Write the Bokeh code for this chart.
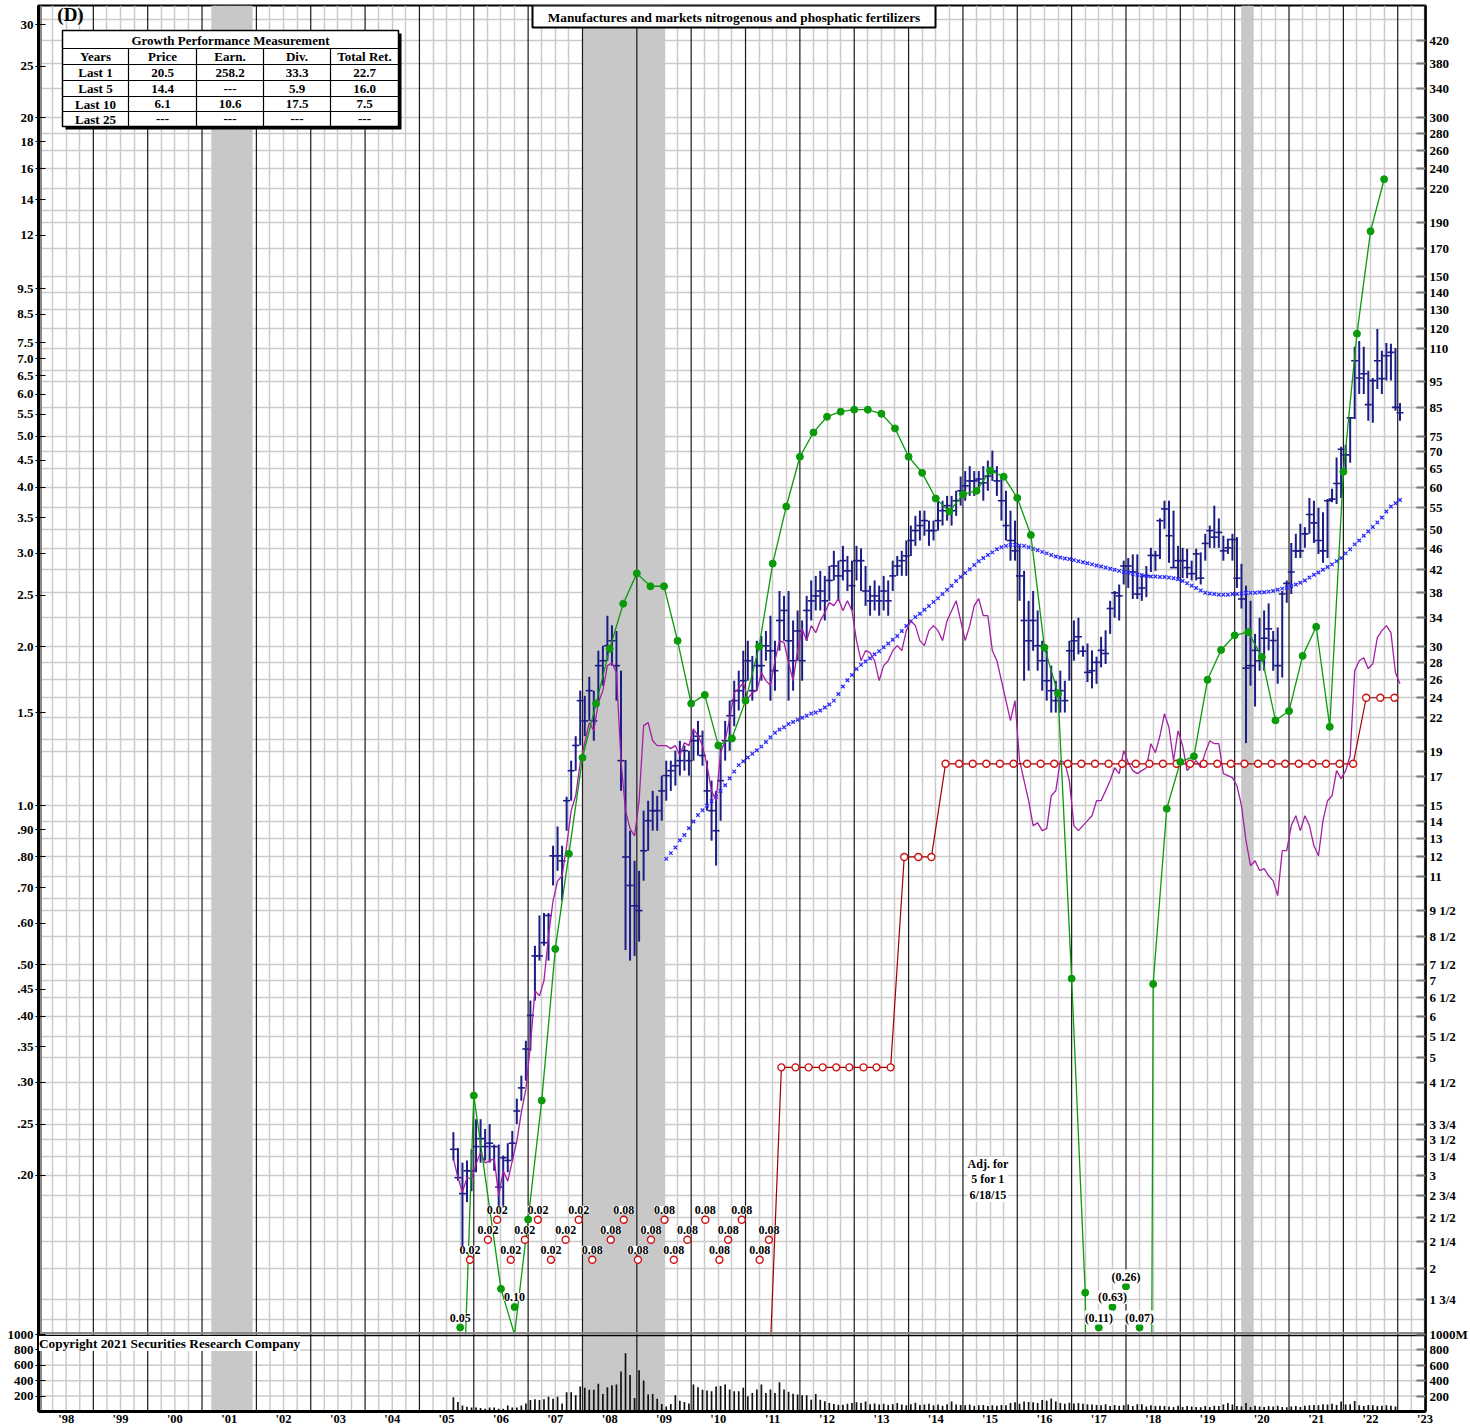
import math
import pandas as pd
from bokeh.plotting import figure
from bokeh.models import (Range1d, LogScale, LinearScale, LogAxis, FixedTicker,
                          ColumnDataSource, LabelSet, Label, Grid)
from bokeh.core.properties import value
from bokeh.embed import file_html
from bokeh.resources import INLINE

FONT = "Liberation Serif"

# ---------------- data ----------------
TITLE = "Manufactures and markets nitrogenous and phosphatic fertilizers"
TABLE_TITLE = "Growth Performance Measurement"
TABLE_HEAD = ["Years", "Price", "Earn.", "Div.", "Total Ret."]
TABLE_YEARS = ["Last 1", "Last 5", "Last 10", "Last 25"]
TABLE_PRICE = ["20.5", "14.4", "6.1", "---"]
TABLE_EARN = ["258.2", "---", "10.6", "---"]
TABLE_DIV = ["33.3", "5.9", "17.5", "---"]
TABLE_TOTAL = ["22.7", "16.0", "7.5", "---"]

REC_START = [2001.17, 2008.00, 2020.12]
REC_END = [2001.93, 2009.51, 2020.35]

FIRST_MONTH = "2005-08-01"
# monthly price bars (right scale, $)
PRICE_HIGH = [3.62,3.38,3.17,3.20,3.36,3.83,3.83,3.67,3.75,3.43,
              3.43,3.27,3.45,3.64,4.19,4.63,5.39,6.42,8.15,9.30,
              9.40,9.40,12.6,13.7,12.6,15.6,18.25,20.3,24.75,24.2,
              26.3,24.75,29.45,30.1,34.3,32.9,32.1,27.0,18.3,13.45,
              11.8,11.3,14.68,15.33,16.0,15.66,17.1,18.25,18.25,19.06,
              19.9,19.5,19.06,20.8,21.7,20.8,18.25,16.73,16.0,19.5,
              21.7,23.7,25.85,27.0,29.45,30.76,28.8,30.76,31.4,32.1,
              34.3,30.76,38.2,37.4,38.2,33.6,35.1,33.6,37.4,40.0,
              40.8,41.7,40.8,42.6,45.5,43.6,46.5,44.5,43.6,46.5,
              46.0,42.6,39.1,40.0,39.1,40.8,40.0,43.6,44.5,45.5,
              47.6,50.8,53.0,54.2,54.2,51.9,51.9,56.6,56.6,57.8,
              57.8,59.1,62.9,64.4,65.8,64.4,64.4,65.8,67.4,70.4,
              65.8,63.0,59.1,54.2,51.9,46.5,41.7,36.6,38.2,35.1,
              30.76,29.45,27.6,25.85,27.0,25.85,30.76,33.6,34.0,30.1,
              30.4,29.5,28.7,31.3,32.2,36.6,38.2,39.3,43.6,44.1,
              44.8,44.8,41.2,42.6,46.1,45.5,52.4,56.6,56.6,54.2,
              46.5,46.1,45.9,43.6,45.9,45.2,49.0,50.8,55.4,52.4,
              48.6,48.0,49.0,48.3,43.0,39.1,36.6,31.7,34.0,35.1,
              36.2,32.1,32.6,38.2,40.0,47.1,49.0,51.2,50.4,57.3,
              56.6,54.9,53.8,57.0,59.6,68.3,71.6,72.2,81.2,110.7,
              113.5,110.7,99.7,96.6,119.5,108.7,112.5,112.1,110.1,86.6]
PRICE_LOW = [3.20,2.93,2.18,2.67,2.80,3.04,3.17,3.20,3.17,3.06,
             2.62,2.62,3.04,3.20,3.75,4.15,4.53,5.16,6.42,7.64,
             8.15,7.64,10.6,11.3,9.92,13.45,15.33,17.47,19.5,20.3,
             21.7,19.9,23.7,25.3,28.2,27.6,23.7,16.0,8.0,7.64,
             7.8,8.3,10.82,12.33,13.45,13.45,14.05,15.33,16.0,16.37,
             17.1,17.47,17.1,18.25,18.66,17.85,14.68,12.88,11.56,14.05,
             18.25,19.06,21.2,22.7,23.7,25.85,23.7,24.75,25.85,28.2,
             23.7,24.75,29.45,30.76,23.7,24.75,28.2,25.85,30.76,33.6,
             35.1,35.1,33.6,36.6,40.0,36.6,40.0,38.2,35.1,40.0,
             38.2,35.8,34.3,35.1,34.3,35.1,34.3,38.2,40.8,40.8,
             40.8,44.5,46.5,47.6,48.6,46.5,47.6,49.7,50.8,51.9,
             50.8,53.0,55.4,56.6,57.8,57.8,59.1,56.6,59.1,61.7,
             57.8,51.9,47.6,43.6,43.6,36.6,25.85,27.0,29.45,27.0,
             24.75,23.7,22.5,22.5,22.5,22.5,25.85,28.2,29.0,28.7,
             25.7,25.0,25.5,27.4,27.8,31.7,34.0,33.6,39.3,38.7,
             36.9,36.9,36.6,37.2,41.5,41.7,43.9,50.1,43.2,42.3,
             40.4,40.4,40.4,40.0,40.0,39.3,43.6,46.1,46.1,46.1,
             43.6,44.9,43.6,38.7,35.4,19.7,25.3,23.1,27.0,27.0,
             29.5,27.0,25.5,26.2,36.3,37.7,44.1,44.1,46.1,49.0,
             47.1,44.9,43.2,44.1,56.2,55.8,57.3,63.9,66.8,80.8,
             90.1,90.1,80.2,79.5,92.1,90.1,95.5,95.5,83.7,80.2]
PRICE_CLOSE = [3.36,2.97,2.77,3.06,3.06,3.40,3.52,3.40,3.45,3.40,
               2.85,3.24,3.20,3.45,3.97,4.39,5.20,6.02,7.80,7.80,
               8.26,9.30,12.06,12.06,11.8,15.33,17.47,19.5,23.7,21.7,
               24.75,21.7,27.6,28.2,30.1,30.76,27.6,18.25,12.0,10.6,
               9.7,9.5,12.33,14.05,14.68,14.68,16.0,17.1,17.47,17.85,
               18.25,19.06,18.25,19.9,20.3,18.66,16.0,14.68,13.45,16.73,
               19.9,22.2,23.7,24.75,25.85,28.2,24.75,27.6,27.6,30.1,
               29.45,27.0,33.6,35.1,30.76,28.2,32.1,28.2,35.1,36.6,
               37.4,38.2,36.6,40.0,42.6,40.8,43.6,41.7,39.1,43.6,
               43.6,38.2,36.6,37.4,36.6,38.2,36.6,40.8,42.6,43.6,
               44.5,47.6,49.7,50.8,51.9,49.7,49.7,51.9,54.2,55.4,
               54.2,56.6,59.1,60.4,61.7,61.7,62.2,61.2,63.0,64.4,
               61.7,56.6,50.8,47.6,45.5,40.8,33.6,30.76,33.6,30.1,
               28.2,25.85,24.75,23.7,24.75,23.7,29.45,30.76,31.3,29.4,
               26.8,27.0,28.0,29.5,29.1,35.4,37.9,37.4,42.6,42.6,
               41.5,37.7,38.7,40.8,44.6,44.6,51.9,54.6,48.6,42.3,
               43.6,43.6,42.3,41.2,44.9,40.4,47.0,49.7,48.3,49.3,
               45.5,46.1,47.8,40.4,36.9,27.3,27.6,29.5,28.2,31.1,
               32.4,30.8,27.6,37.7,39.5,41.5,45.5,45.5,49.0,53.3,
               51.4,47.6,45.5,56.6,57.0,61.0,70.8,69.1,81.2,104.1,
               96.6,98.4,86.0,95.5,104.1,96.3,106.4,108.0,85.0,83.0]

# moving-average "x" line (right scale), monthly from the 48th bar
MA_FIRST_INDEX = 47
MA_VALUES = [11.9,12.2,12.5,12.9,13.2,13.6,14.0,14.4,14.7,15.0,
             15.3,15.6,16.0,16.4,16.9,17.4,17.9,18.2,18.5,18.8,
             19.1,19.4,19.8,20.2,20.6,20.9,21.1,21.4,21.6,21.8,
             22.0,22.2,22.4,22.5,22.7,23.0,23.3,23.7,24.4,25.2,
             25.9,26.5,27.2,27.7,28.1,28.5,29.0,29.4,29.9,30.4,
             30.9,31.4,32.1,32.8,33.5,34.1,34.6,35.2,35.8,36.4,
             37.0,37.7,38.4,39.1,39.9,40.6,41.3,42.0,42.8,43.5,
             44.1,44.7,45.2,45.8,46.2,46.5,46.7,46.7,46.6,46.5,
             46.2,45.9,45.6,45.3,45.0,44.7,44.4,44.2,44.0,43.9,
             43.7,43.5,43.3,43.1,42.9,42.7,42.5,42.3,42.1,41.9,
             41.7,41.5,41.4,41.2,41.0,40.9,40.8,40.7,40.7,40.6,
             40.6,40.5,40.4,40.2,39.9,39.5,39.1,38.7,38.3,37.9,
             37.8,37.7,37.6,37.6,37.6,37.7,37.7,37.8,37.9,37.9,
             37.9,38.0,38.0,38.1,38.2,38.4,38.6,38.8,39.0,39.3,
             39.6,40.0,40.5,41.0,41.4,41.9,42.4,42.9,43.5,44.1,
             45.0,45.8,46.8,47.6,48.6,49.5,50.5,51.5,52.6,54.0,
             55.2,56.0,56.8]

# relative strength (left scale units), monthly
REL_STRENGTH = [0.215,0.198,0.186,0.198,0.197,0.210,0.221,0.211,0.213,0.215,
                0.183,0.204,0.195,0.213,0.232,0.263,0.291,0.352,0.447,0.437,
                0.467,0.568,0.661,0.721,0.737,0.840,0.978,1.044,1.206,1.316,
                1.436,1.386,1.566,1.650,1.840,1.864,1.784,1.217,0.978,0.905,
                0.877,1.022,1.417,1.436,1.327,1.299,1.299,1.299,1.282,1.299,
                1.244,1.316,1.299,1.398,1.356,1.299,1.191,1.067,1.022,1.260,
                1.327,1.461,1.636,1.665,1.709,1.594,1.636,1.650,1.784,1.724,
                1.687,1.880,2.052,2.034,1.864,1.724,1.964,2.161,2.052,2.190,
                2.124,2.238,2.316,2.421,2.390,2.464,2.336,2.442,2.336,2.052,
                1.880,1.964,1.947,1.880,1.724,1.840,1.880,1.964,2.008,1.964,
                2.143,2.238,2.190,2.052,2.008,2.143,2.190,2.143,2.052,2.238,
                2.336,2.442,2.238,2.052,2.190,2.390,2.464,2.287,2.287,1.964,
                1.880,1.724,1.580,1.448,1.580,1.217,1.115,1.022,0.917,0.928,
                0.897,0.905,1.044,1.067,1.217,1.206,1.115,0.917,0.897,0.917,
                0.937,0.957,1.022,1.022,1.067,1.115,1.180,1.150,1.271,1.206,
                1.165,1.150,1.165,1.180,1.310,1.260,1.356,1.493,1.404,1.217,
                1.386,1.299,1.165,1.191,1.217,1.180,1.260,1.327,1.310,1.310,
                1.150,1.140,1.130,1.091,1.000,0.859,0.770,0.787,0.754,0.760,
                0.737,0.721,0.676,0.822,0.822,0.917,0.957,0.897,0.957,0.917,
                0.840,0.804,0.937,1.022,1.044,1.165,1.125,1.165,1.244,1.800,
                1.880,1.905,1.816,1.855,2.079,2.143,2.190,2.124,1.784,1.701]

# monthly volume (millions)
VOLUME = [184,123,79,61,53,53,44,35,53,53,35,35,79,53,53,79,105,149,158,149,
          158,193,167,193,105,250,250,211,325,307,281,281,360,228,316,342,351,518,755,474,
          176,535,404,220,228,167,97,66,97,211,140,123,105,351,316,281,272,263,325,330,
          350,285,263,263,307,197,240,285,351,240,285,240,380,285,255,232,220,211,211,154,
          228,154,132,110,97,88,88,100,110,120,110,130,95,105,90,100,85,95,110,90,
          80,95,115,85,90,100,80,90,75,95,130,90,85,80,90,75,80,85,70,80,
          75,85,80,110,120,100,130,125,120,110,150,140,170,130,110,100,115,105,110,100,
          95,90,85,80,95,70,85,75,80,90,70,95,95,65,80,70,75,70,65,60,
          75,60,70,65,60,55,70,60,75,70,90,110,90,70,65,110,60,75,65,60,
          70,65,75,60,55,65,70,60,75,80,85,80,95,90,100,85,130,90,95,135,
          80,70,85,80,70,75,80,75,65,15]

# 12-month earnings (left scale), quarterly
EARN_DATES = [2005.75, 2006.00, 2006.50, 2006.75, 2007.00, 2007.25, 2007.50, 2007.75,
              2008.00, 2008.25, 2008.50, 2008.75, 2009.00, 2009.25, 2009.50, 2009.75,
              2010.00, 2010.25, 2010.50, 2010.75, 2011.00, 2011.25, 2011.50, 2011.75,
              2012.00, 2012.25, 2012.50, 2012.75, 2013.00, 2013.25, 2013.50, 2013.75,
              2014.00, 2014.25, 2014.50, 2014.75, 2015.00, 2015.25, 2015.50, 2015.75,
              2016.00, 2016.25, 2016.50, 2016.75, 2017.00, 2017.25, 2017.50, 2017.75,
              2018.00, 2018.25, 2018.50, 2018.75, 2019.00, 2019.25, 2019.50, 2019.75,
              2020.00, 2020.25, 2020.50, 2020.75, 2021.00, 2021.25, 2021.50, 2021.75,
              2022.00, 2022.25, 2022.50, 2022.75]
EARN_VALUES = [0.05, 0.283, 0.122, 0.10, 0.165, 0.277, 0.536, 0.811,
               1.232, 1.56, 1.98, 2.41, 2.75, 2.60, 2.60, 2.05,
               1.56, 1.62, 1.30, 1.34, 1.58, 2.00, 2.87, 3.68,
               4.57, 5.08, 5.44, 5.56, 5.61, 5.61, 5.51, 5.17,
               4.57, 4.26, 3.81, 3.60, 3.88, 3.94, 4.30, 4.19,
               3.82, 3.25, 1.99, 1.63, 0.471, 0.120, -0.11, -0.63,
               -0.26, -0.07, 0.46, 0.987, 1.21, 1.24, 1.73, 1.97,
               2.10, 2.13, 1.91, 1.45, 1.51, 1.92, 2.18, 1.41,
               4.28, 7.81, 12.2, 15.3]

# annual dividend rate (left scale), quarterly
DIV_DATES = [2005.93, 2006.26, 2006.43, 2006.68, 2006.94, 2007.18, 2007.42, 2007.69,
             2007.93, 2008.18, 2008.52, 2008.76, 2009.02, 2009.26, 2009.51, 2009.68,
             2009.93, 2010.26, 2010.52, 2010.68, 2010.93, 2011.26, 2011.43, 2011.66,
             2011.92, 2012.16, 2012.42, 2012.67, 2012.91, 2013.17, 2013.41, 2013.67,
             2013.92, 2014.18, 2014.42, 2014.68, 2014.93, 2015.18, 2015.43, 2015.68,
             2015.93, 2016.18, 2016.43, 2016.68, 2016.93, 2017.18, 2017.43, 2017.68,
             2017.93, 2018.18, 2018.43, 2018.68, 2018.93, 2019.18, 2019.43, 2019.68,
             2019.93, 2020.18, 2020.43, 2020.68, 2020.93, 2021.18, 2021.43, 2021.68,
             2021.93, 2022.18, 2022.42, 2022.68, 2022.94]
DIV_VALUES = [0.02, 0.02, 0.02, 0.02, 0.02, 0.02, 0.02, 0.02,
              0.02, 0.08, 0.08, 0.08, 0.08, 0.08, 0.08, 0.08,
              0.08, 0.08, 0.08, 0.08, 0.08, 0.08, 0.08, 0.32,
              0.32, 0.32, 0.32, 0.32, 0.32, 0.32, 0.32, 0.32,
              0.80, 0.80, 0.80, 1.20, 1.20, 1.20, 1.20, 1.20,
              1.20, 1.20, 1.20, 1.20, 1.20, 1.20, 1.20, 1.20,
              1.20, 1.20, 1.20, 1.20, 1.20, 1.20, 1.20, 1.20,
              1.20, 1.20, 1.20, 1.20, 1.20, 1.20, 1.20, 1.20,
              1.20, 1.20, 1.60, 1.60, 1.60]

SPLIT_DATE = 2015.46
SPLIT_NOTE = "Adj. for\n5 for 1\n6/18/15"
COPYRIGHT = "Copyright 2021 Securities Research Company"

LEFT_TICKS = [30, 25, 20, 18, 16, 14, 12, 9.5, 8.5, 7.5, 7, 6.5, 6, 5.5, 5, 4.5, 4, 3.5, 3,
              2.5, 2, 1.5, 1, 0.9, 0.8, 0.7, 0.6, 0.5, 0.45, 0.4, 0.35, 0.3, 0.25, 0.2]
LEFT_LABELS = ["30", "25", "20", "18", "16", "14", "12", "9.5", "8.5", "7.5", "7.0", "6.5",
               "6.0", "5.5", "5.0", "4.5", "4.0", "3.5", "3.0", "2.5", "2.0", "1.5", "1.0",
               ".90", ".80", ".70", ".60", ".50", ".45", ".40", ".35", ".30", ".25", ".20"]
RIGHT_TICKS = [420, 380, 340, 300, 280, 260, 240, 220, 190, 170, 150, 140, 130, 120, 110,
               95, 85, 75, 70, 65, 60, 55, 50, 46, 42, 38, 34, 30, 28, 26, 24, 22, 19, 17,
               15, 14, 13, 12, 11, 9.5, 8.5, 7.5, 7, 6.5, 6, 5.5, 5, 4.5, 3.75, 3.5, 3.25,
               3, 2.75, 2.5, 2.25, 2, 1.75]
RIGHT_LABELS = ["420", "380", "340", "300", "280", "260", "240", "220", "190", "170", "150",
                "140", "130", "120", "110", "95", "85", "75", "70", "65", "60", "55", "50",
                "46", "42", "38", "34", "30", "28", "26", "24", "22", "19", "17", "15", "14",
                "13", "12", "11", "9 1/2", "8 1/2", "7 1/2", "7", "6 1/2", "6", "5 1/2", "5",
                "4 1/2", "3 3/4", "3 1/2", "3 1/4", "3", "2 3/4", "2 1/2", "2 1/4", "2", "1 3/4"]
VOL_TICKS = [200, 400, 600, 800, 1000]
VOL_LEFT_LABELS = ["200", "400", "600", "800", "1000"]
VOL_RIGHT_LABELS = ["200", "400", "600", "800", "1000M"]
YEAR_LABELS = ["'98", "'99", "'00", "'01", "'02", "'03", "'04", "'05", "'06", "'07", "'08",
               "'09", "'10", "'11", "'12", "'13", "'14", "'15", "'16", "'17", "'18", "'19",
               "'20", "'21", "'22", "'23"]
FIRST_YEAR = 1998

assert len(PRICE_HIGH) == len(PRICE_LOW) == len(PRICE_CLOSE) == len(VOLUME) == len(REL_STRENGTH) == 210
assert len(EARN_DATES) == len(EARN_VALUES)
assert len(DIV_DATES) == len(DIV_VALUES)
assert len(LEFT_TICKS) == len(LEFT_LABELS)
assert len(RIGHT_TICKS) == len(RIGHT_LABELS)

# ---------------- layout ----------------
PRICE_FACTOR = 15.0            # right (price) scale = 15 x left (earnings) scale
W, H = 1470, 1428
PX_L, PX_R = 38, 1425          # frame left/right (canvas px)
PX_T, PX_SPLIT, PX_B = 5, 1334, 1411   # frame top, price/volume split, frame bottom
X0, X1 = 1997.991, 2023.511
Y_FLOOR, Y_TOP = 0.1, 32.6     # left-scale values at the split and at the frame top
LN_PER_PX = math.log(Y_TOP / Y_FLOOR) / (PX_SPLIT - PX_T)
VOL_MAX = 1000.0               # volume value at the split line
VOL_TOP = VOL_MAX * (PX_B - PX_T) / (PX_B - PX_SPLIT)

AXIS_FS = "13px"
TABLE_FS = "13px"
NOTE_FS = "12px"
TXT_C = "black"


def xd(px):
    return X0 + (px - PX_L) * (X1 - X0) / (PX_R - PX_L)


def yd(py):
    return Y_FLOOR * math.exp(LN_PER_PX * (PX_SPLIT - py))


def vol_to_left(vv):
    return yd(PX_B - vv * (PX_B - PX_SPLIT) / VOL_MAX)


def key(v):
    return int(v) if float(v).is_integer() else float(v)


Y_BOT = yd(PX_B)

GRID_C = "#cbcbcb"
BAR_C = "#1c1c86"
MA_C = "#2b2bff"
RS_C = "#a41fa4"
EARN_C = "#0a9a0a"
DIV_LINE_C = "#a00000"
DIV_PT_C = "#cc1010"
BAND_C = "#c8c8c8"
YEAR_C = "#1a1a1a"

months = pd.date_range(FIRST_MONTH, periods=len(PRICE_CLOSE), freq="MS")
mdates = [d.year + (d.month - 0.5) / 12.0 for d in months]
year_lines = [float(y) for y in range(FIRST_YEAR + 1, 2024)]
quarters = [FIRST_YEAR + q * 0.25 for q in range(0, 26 * 4 + 1) if q % 4 != 0]
year_mid = [FIRST_YEAR + k + 0.5 for k in range(len(YEAR_LABELS))]
hgrid = sorted(set(RIGHT_TICKS + [460, 200, 100, 20, 10, 4, 1.6]))

p = figure(width=W, height=H, x_range=Range1d(X0, X1), y_range=Range1d(Y_BOT, Y_TOP),
           y_axis_type="log", output_backend="svg", toolbar_location=None,
           min_border_left=PX_L, min_border_right=W - PX_R,
           min_border_top=PX_T, min_border_bottom=H - PX_B)
p.extra_y_ranges = {"price": Range1d(Y_BOT * PRICE_FACTOR, Y_TOP * PRICE_FACTOR),
                    "vol": Range1d(0, VOL_TOP)}
p.extra_y_scales = {"price": LogScale(), "vol": LinearScale()}
p.background_fill_color = "white"
p.border_fill_color = "white"
p.outline_line_color = "black"
p.outline_line_width = 2
for g in p.grid:
    g.visible = False

p.add_layout(Grid(dimension=0, ticker=FixedTicker(ticks=quarters),
                  grid_line_color=GRID_C, grid_line_width=1.5))
p.add_layout(Grid(dimension=1, ticker=FixedTicker(ticks=hgrid), y_range_name="price",
                  grid_line_color=GRID_C, grid_line_width=1.5))

# left axis: earnings scale + volume scale
vol_left_vals = [vol_to_left(t) for t in VOL_TICKS]
lax = p.yaxis[0]
lax.ticker = FixedTicker(ticks=LEFT_TICKS + vol_left_vals)
ov = {key(t): s for t, s in zip(LEFT_TICKS, LEFT_LABELS)}
ov.update({t: s for t, s in zip(vol_left_vals, VOL_LEFT_LABELS)})
lax.major_label_overrides = ov
lax.minor_tick_line_color = None
lax.minor_tick_in = 0
lax.minor_tick_out = 0
lax.major_tick_in = 7
lax.major_tick_out = 3
lax.major_tick_line_color = "black"
lax.axis_line_width = 3
lax.axis_line_color = "black"
lax.major_label_standoff = 2
lax.major_label_text_font = FONT
lax.major_label_text_font_style = "bold"
lax.major_label_text_font_size = AXIS_FS
lax.major_label_text_color = TXT_C

# right axis: price scale + volume scale
vol_right_vals = [v * PRICE_FACTOR for v in vol_left_vals]
rov = {key(t): s for t, s in zip(RIGHT_TICKS, RIGHT_LABELS)}
rov.update({t: s for t, s in zip(vol_right_vals, VOL_RIGHT_LABELS)})
rax = LogAxis(y_range_name="price", ticker=FixedTicker(ticks=RIGHT_TICKS + vol_right_vals),
              major_label_overrides=rov)
rax.minor_tick_line_color = None
rax.minor_tick_in = 0
rax.minor_tick_out = 0
rax.major_tick_in = 9
rax.major_tick_out = 0
rax.major_tick_line_color = "#777777"
rax.major_tick_line_width = 2
rax.axis_line_width = 2.5
rax.axis_line_color = "black"
rax.major_label_standoff = 4
rax.major_label_text_font = FONT
rax.major_label_text_font_style = "bold"
rax.major_label_text_font_size = AXIS_FS
rax.major_label_text_color = TXT_C
p.add_layout(rax, "right")

# bottom axis: years
vx = p.xaxis[0]
vx.ticker = FixedTicker(ticks=year_mid)
vx.major_label_overrides = {key(t): s for t, s in zip(year_mid, YEAR_LABELS)}
vx.major_tick_line_color = None
vx.minor_tick_line_color = None
vx.major_tick_in = 0
vx.major_tick_out = 0
vx.minor_tick_in = 0
vx.minor_tick_out = 0
vx.axis_line_width = 3
vx.axis_line_color = "black"
vx.major_label_standoff = 0
vx.major_label_text_font = FONT
vx.major_label_text_font_style = "bold"
vx.major_label_text_font_size = "12.5px"
vx.major_label_text_color = TXT_C

# recession bands and year lines (full height)
p.quad(left=REC_START, right=REC_END, bottom=Y_BOT, top=Y_TOP, fill_color=BAND_C, line_color=None)
p.segment(x0=year_lines, x1=year_lines, y0=[Y_BOT] * len(year_lines), y1=[Y_TOP] * len(year_lines),
          line_color=YEAR_C, line_width=1.2)
p.segment(x0=[xd(40.5)], x1=[xd(40.5)], y0=[Y_BOT], y1=[Y_TOP], line_color="#8a8a8a", line_width=2)

# price bars
psrc = ColumnDataSource(dict(x=mdates, hi=PRICE_HIGH, lo=PRICE_LOW, c=PRICE_CLOSE))
p.segment(x0="x", x1="x", y0="lo", y1="hi", source=psrc, y_range_name="price",
          line_color=BAR_C, line_width=2)
p.scatter(x="x", y="c", source=psrc, y_range_name="price", marker="dash", size=7,
          line_color=BAR_C, line_width=1.6)

# moving average x's
p.scatter(x=mdates[MA_FIRST_INDEX:MA_FIRST_INDEX + len(MA_VALUES)], y=MA_VALUES,
          y_range_name="price", marker="x", size=5, line_color=MA_C, line_width=1.3)

# relative strength
p.line(x=mdates, y=REL_STRENGTH, line_color=RS_C, line_width=1.3)

# dividend and earnings lines
p.line(x=DIV_DATES, y=DIV_VALUES, line_color=DIV_LINE_C, line_width=1.2)
earn_line = [v if v > 0 else 1e-7 for v in EARN_VALUES]
p.line(x=EARN_DATES, y=earn_line, line_color=EARN_C, line_width=1.3)

# ---------- volume panel (drawn over the bottom strip) ----------
p.quad(left=[X0], right=[X1], bottom=[0], top=[VOL_MAX], y_range_name="vol",
       fill_color="white", line_color=None)
p.segment(x0=quarters, x1=quarters, y0=[0] * len(quarters), y1=[VOL_MAX] * len(quarters),
          y_range_name="vol", line_color=GRID_C, line_width=1.5)
vgrid = VOL_TICKS[:-1]
p.segment(x0=[X0] * len(vgrid), x1=[X1] * len(vgrid), y0=vgrid, y1=vgrid, y_range_name="vol",
          line_color=GRID_C, line_width=1.5)
p.quad(left=REC_START, right=REC_END, bottom=0, top=VOL_MAX, y_range_name="vol",
       fill_color=BAND_C, line_color=None)
p.segment(x0=year_lines, x1=year_lines, y0=[0] * len(year_lines), y1=[VOL_MAX] * len(year_lines),
          y_range_name="vol", line_color=YEAR_C, line_width=1.2)
p.segment(x0=[xd(40.5)], x1=[xd(40.5)], y0=[0], y1=[VOL_MAX], y_range_name="vol",
          line_color="#8a8a8a", line_width=2)
p.segment(x0=mdates, x1=mdates, y0=[0] * len(VOLUME), y1=VOLUME, y_range_name="vol",
          line_color="#111111", line_width=1.7)
# split line between the panels
p.segment(x0=[X0], x1=[X1], y0=[yd(PX_SPLIT - 1.5)], y1=[yd(PX_SPLIT - 1.5)],
          line_color="#8a8a8a", line_width=2)
p.segment(x0=[X0], x1=[X1], y0=[yd(PX_SPLIT + 1)], y1=[yd(PX_SPLIT + 1)],
          line_color="black", line_width=1.5)
p.add_layout(Label(x=xd(38.5), y=yd(1343), text=COPYRIGHT, text_align="left",
                   text_baseline="middle", text_font=FONT, text_font_style="bold",
                   text_font_size="13.3px", text_color=TXT_C, background_fill_color="white"))

# ---------- markers ----------
on_d = [(d, v) for d, v in zip(DIV_DATES, DIV_VALUES) if v >= Y_FLOOR]
p.scatter(x=[d for d, v in on_d], y=[v for d, v in on_d], marker="circle", size=7,
          fill_color="white", line_color=DIV_PT_C, line_width=1.4)
off_d = [(d, v) for d, v in zip(DIV_DATES, DIV_VALUES) if v < Y_FLOOR]
doff_src = ColumnDataSource(dict(
    x=[d for d, v in off_d],
    y=[yd(1259.3 - 20 * (k % 3)) for k in range(len(off_d))],
    t=["%.2f" % v for d, v in off_d]))
p.add_layout(LabelSet(x="x", y="y", text="t", source=doff_src, y_offset=10,
                      text_align="center", text_baseline="middle",
                      text_font=value(FONT), text_font_style="bold", text_font_size=NOTE_FS,
                      text_color=TXT_C, background_fill_color="white"))
p.scatter(x="x", y="y", source=doff_src, marker="circle", size=7, fill_color="white",
          line_color=DIV_PT_C, line_width=1.4)

on_e = [(d, v) for d, v in zip(EARN_DATES, EARN_VALUES) if v > Y_FLOOR]
p.scatter(x=[d for d, v in on_e], y=[v for d, v in on_e], marker="circle", size=7,
          fill_color=EARN_C, line_color=EARN_C)
EARN_LABEL_ROWS = [0, 1, 0, 1, 2, 0]
off_e = [(d, v) for d, v in zip(EARN_DATES, EARN_VALUES) if v <= Y_FLOOR]
eoff_src = ColumnDataSource(dict(
    x=[d for d, v in off_e],
    y=[yd(1327 - 20.5 * r) for r in EARN_LABEL_ROWS[:len(off_e)]],
    t=[("%.2f" % v) if v > 0 else "(%.2f)" % abs(v) for d, v in off_e]))
p.add_layout(LabelSet(x="x", y="y", text="t", source=eoff_src, y_offset=10,
                      text_align="center", text_baseline="middle",
                      text_font=value(FONT), text_font_style="bold", text_font_size=NOTE_FS,
                      text_color=TXT_C, background_fill_color="white"))
p.scatter(x="x", y="y", source=eoff_src, marker="circle", size=7, fill_color=EARN_C,
          line_color=EARN_C)

# split note
p.add_layout(Label(x=SPLIT_DATE, y=yd(1179), text=SPLIT_NOTE, text_align="center",
                   text_baseline="middle", text_font=FONT, text_font_style="bold",
                   text_font_size=NOTE_FS, text_color=TXT_C, background_fill_color="white",
                   text_line_height=1.1))

# title box
p.quad(left=xd(532), right=xd(935), bottom=yd(27), top=Y_TOP, fill_color="white",
       line_color="black", line_width=2)
p.text(x=[xd(733.5)], y=[yd(16.5)], text=[TITLE], text_font=value(FONT),
       text_font_style="bold", text_font_size="13.3px", text_align="center",
       text_baseline="middle", text_color=TXT_C)

# (D) marker
p.add_layout(Label(x=xd(70), y=yd(14), text="(D)", text_align="center", text_baseline="middle",
                   text_font=FONT, text_font_style="bold", text_font_size="19px",
                   text_color=TXT_C))

# growth table
TL, TR, TT, TB = 62, 398, 30, 126
p.quad(left=xd(TL + 3), right=xd(TR + 3), bottom=yd(TB + 3), top=yd(TT + 3),
       fill_color="black", line_color=None)
p.quad(left=xd(TL), right=xd(TR), bottom=yd(TB), top=yd(TT), fill_color="white",
       line_color="black", line_width=1.5)
row_lines = [48, 64, 80, 96, 111]
p.segment(x0=[xd(TL)] * len(row_lines), x1=[xd(TR)] * len(row_lines),
          y0=[yd(r) for r in row_lines], y1=[yd(r) for r in row_lines],
          line_color="black", line_width=1.2)
col_lines = [128, 196, 263, 330]
p.segment(x0=[xd(c) for c in col_lines], x1=[xd(c) for c in col_lines],
          y0=[yd(48)] * len(col_lines), y1=[yd(TB)] * len(col_lines),
          line_color="black", line_width=1.2)
col_cx = [95, 162, 229.5, 296.5, 364]
row_cy = [72, 88, 103.5, 118.5]
tx, ty, tt = [xd(230)], [yd(39.5)], [TABLE_TITLE]
for c, h in zip(col_cx, TABLE_HEAD):
    tx.append(xd(c)); ty.append(yd(56)); tt.append(h)
for r, cells in zip(row_cy, zip(TABLE_YEARS, TABLE_PRICE, TABLE_EARN, TABLE_DIV, TABLE_TOTAL)):
    for c, s in zip(col_cx, cells):
        tx.append(xd(c)); ty.append(yd(r)); tt.append(s)
p.text(x=tx, y=ty, text=tt, text_font=value(FONT), text_font_style="bold",
       text_font_size=TABLE_FS, text_align="center", text_baseline="middle", text_color=TXT_C)

open("out.html", "w").write(file_html(p, INLINE))
